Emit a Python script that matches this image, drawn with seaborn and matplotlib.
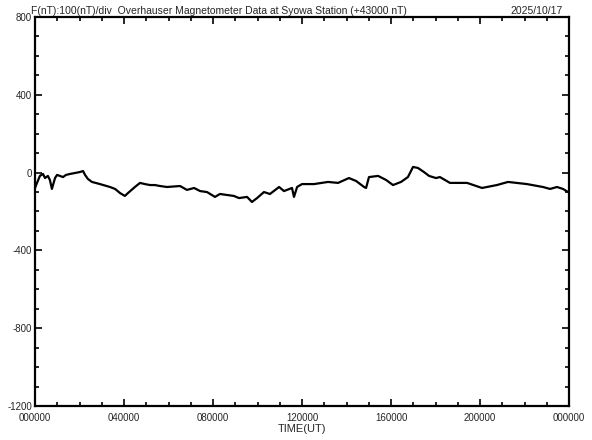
import matplotlib
matplotlib.use("Agg")
import matplotlib.pyplot as plt
import matplotlib.ticker as mticker
import numpy as np
import pandas as pd
import seaborn as sns

# F(nT) - 43000 (time in hours UT)
hours = [0.00, 0.09, 0.22, 0.36, 0.45, 0.58, 0.67, 0.76, 0.90, 0.99,
         1.12, 1.26, 1.39, 1.57, 1.80, 2.02, 2.16, 2.25, 2.38, 2.56,
         2.92, 3.37, 3.60, 3.82, 4.04, 4.18, 4.49, 4.72, 4.94, 5.17,
         5.39, 5.62, 5.93, 6.52, 6.83, 7.15, 7.42, 7.73, 8.09, 8.31,
         8.94, 9.17, 9.53, 9.75, 9.98, 10.29, 10.56, 10.97, 11.19, 11.55,
         11.64, 11.78, 12.00, 12.54, 13.17, 13.62, 14.11, 14.43, 14.79, 14.88,
         15.01, 15.42, 15.78, 16.09, 16.45, 16.76, 16.99, 17.21, 17.48, 17.71,
         18.02, 18.20, 18.65, 19.42, 20.09, 20.76, 21.26, 22.11, 22.83, 23.15,
         23.46, 23.73, 23.96]
field = [-79, -53, -17, -7, -28, -17, -38, -84, -28, -12,
         -17, -23, -12, -7, -2, 3, 8, -12, -33, -48,
         -59, -74, -84, -105, -120, -105, -74, -53, -59, -64,
         -64, -69, -74, -69, -89, -79, -95, -100, -125, -110,
         -120, -131, -125, -151, -131, -100, -110, -74, -95, -79,
         -125, -74, -59, -59, -48, -53, -28, -43, -74, -79,
         -23, -17, -38, -64, -48, -23, 29, 24, 3, -17,
         -28, -23, -53, -53, -79, -64, -48, -59, -74, -84,
         -74, -84, -100]

xtick_hours = [0, 4, 8, 12, 16, 20, 24]
xtick_labels = ["000000", "040000", "080000", "120000", "160000", "200000", "000000"]
ytick_vals = [-1200, -800, -400, 0, 400, 800]

df = pd.DataFrame({"hour": hours, "F": field})

sns.set_style("ticks")
plt.rcParams["font.family"] = ["Liberation Sans", "DejaVu Sans"]

fig = plt.figure(figsize=(5.92, 4.40), dpi=100)
ax = fig.add_axes([35 / 592, 1 - 406 / 440, 534 / 592, 389 / 440])

sns.lineplot(data=df, x="hour", y="F", ax=ax, color="black", linewidth=1.6,
             estimator=None, sort=False)

ax.set_xlim(0, 24)
ax.set_ylim(-1200, 800)
ax.set_xticks(xtick_hours)
ax.set_xticklabels(xtick_labels)
ax.xaxis.set_minor_locator(mticker.MultipleLocator(1))
ax.set_yticks(ytick_vals)
ax.set_yticklabels([str(v) for v in ytick_vals])
ax.yaxis.set_minor_locator(mticker.MultipleLocator(100))

ax.tick_params(which="both", direction="in", top=True, right=True,
               labelsize=7, pad=2, width=1.2, color="black")
ax.tick_params(axis="x", which="major", pad=5)
ax.tick_params(which="major", length=5)
ax.tick_params(which="minor", length=3)
for s in ax.spines.values():
    s.set_linewidth(1.6)
    s.set_color("black")

ax.set_xlabel("TIME(UT)", fontsize=8, labelpad=1)
ax.set_ylabel("")

fig.text(31 / 592, 1 - 14 / 440,
         "F(nT):100(nT)/div  Overhauser Magnetometer Data at Syowa Station (+43000 nT)",
         fontsize=7.5, ha="left", va="baseline")
fig.text(563 / 592, 1 - 14 / 440, "2025/10/17", fontsize=7.5, ha="right", va="baseline")

fig.savefig("out.png", dpi=100)
